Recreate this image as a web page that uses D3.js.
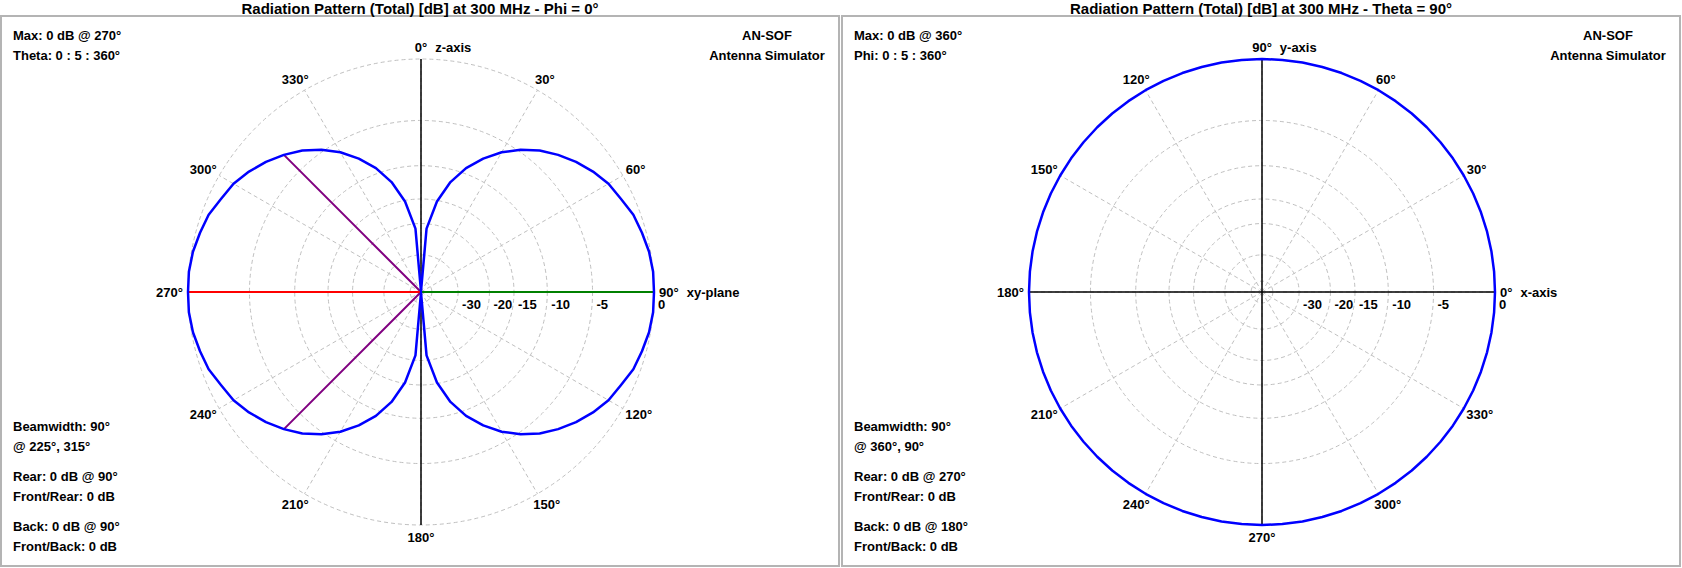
<!DOCTYPE html>
<html>
<head>
<meta charset="utf-8">
<script src="https://cdn.jsdelivr.net/npm/d3@7"></script>
<style>
  body { margin: 0; background: #fff; }
  svg text { font-family: "Liberation Sans", Arial, sans-serif; font-weight: bold; font-size: 13px; fill: #000; }
  svg text.title { font-size: 15px; }
</style>
</head>
<body>
<svg id="chart"></svg>
<script>
var width = 1682, height = 568;

// sweep 0 : 5 : 360 deg
var sweepDeg = d3.range(0, 361, 5);

// Phi = 0 cut, total field [dB] vs theta
var phi0Db = [
  -100, -21.2, -15.2, -11.7, -9.3, -7.5, -6.0, -4.8, -3.8, -3.0, -2.3, -1.7, -1.2, -0.9, -0.5, -0.3, -0.1, 0.0, 0.0,
  0.0, -0.1, -0.3, -0.5, -0.9, -1.2, -1.7, -2.3, -3.0, -3.8, -4.8, -6.0, -7.5, -9.3, -11.7, -15.2, -21.2, -100,
  -21.2, -15.2, -11.7, -9.3, -7.5, -6.0, -4.8, -3.8, -3.0, -2.3, -1.7, -1.2, -0.9, -0.5, -0.3, -0.1, 0.0, 0.0,
  0.0, -0.1, -0.3, -0.5, -0.9, -1.2, -1.7, -2.3, -3.0, -3.8, -4.8, -6.0, -7.5, -9.3, -11.7, -15.2, -21.2, -100
];

// Theta = 90 cut, total field [dB] vs phi
var theta90Db = [
  0, 0, 0, 0, 0, 0, 0, 0, 0, 0, 0, 0, 0, 0, 0, 0, 0, 0, 0,
  0, 0, 0, 0, 0, 0, 0, 0, 0, 0, 0, 0, 0, 0, 0, 0, 0, 0,
  0, 0, 0, 0, 0, 0, 0, 0, 0, 0, 0, 0, 0, 0, 0, 0, 0, 0,
  0, 0, 0, 0, 0, 0, 0, 0, 0, 0, 0, 0, 0, 0, 0, 0, 0, 0
];

var ringDb = [-50, -30, -20, -15, -10, -5, 0];
var ringLabelDb = [-30, -20, -15, -10, -5, 0];
var spokeDeg = d3.range(0, 360, 30);

var titles = [
  "Radiation Pattern (Total) [dB] at 300 MHz - Phi = 0°",
  "Radiation Pattern (Total) [dB] at 300 MHz - Theta = 90°"
];
var infoTop = [
  ["Max: 0 dB @ 270°", "Theta: 0 : 5 : 360°"],
  ["Max: 0 dB @ 360°", "Phi: 0 : 5 : 360°"]
];
var infoBottom = [
  [["Beamwidth: 90°", "@ 225°, 315°"], ["Rear: 0 dB @ 90°", "Front/Rear: 0 dB"], ["Back: 0 dB @ 90°", "Front/Back: 0 dB"]],
  [["Beamwidth: 90°", "@ 360°, 90°"], ["Rear: 0 dB @ 270°", "Front/Rear: 0 dB"], ["Back: 0 dB @ 180°", "Front/Back: 0 dB"]]
];
var brand = ["AN-SOF", "Antenna Simulator"];

var svg = d3.select("#chart").attr("width", width).attr("height", height);

var R = 233;
// power ratio -> radius (log-like dB scale)
var rPow = d3.scalePow().exponent(10 / 37.6).domain([0, 1]).range([0, R]);
function rScale(db) { return rPow(Math.pow(10, db / 10)); }
function rad(a) { return a * Math.PI / 180; }

var panels = [
  {
    x0: 0, cx: 421, values: phi0Db,
    screen: function (a) { return a; },           // theta clockwise from top
    axisLines: [[0, 180]],
    axisNames: [{ deg: 0, text: "z-axis" }, { deg: 90, text: "xy-plane" }],
    markers: [
      { deg: 225, color: "#800080" }, { deg: 315, color: "#800080" },
      { deg: 270, color: "#ff0000" }, { deg: 90, color: "#008000" }
    ]
  },
  {
    x0: 841, cx: 1262, values: theta90Db,
    screen: function (a) { return 90 - a; },      // phi counter-clockwise from right
    axisLines: [[0, 180], [90, 270]],
    axisNames: [{ deg: 90, text: "y-axis" }, { deg: 0, text: "x-axis" }],
    markers: []
  }
];
var cy = 292;

panels.forEach(function (p, i) {
  var g = svg.append("g");

  g.append("rect")
    .attr("x", p.x0 + 1).attr("y", 16)
    .attr("width", 838).attr("height", 550)
    .attr("fill", "none").attr("stroke", "#b4b4b4").attr("stroke-width", 2);

  g.append("text")
    .attr("class", "title")
    .attr("x", p.x0 + 420).attr("y", 13.5)
    .attr("text-anchor", "middle")
    .text(titles[i]);

  var plot = g.append("g").attr("transform", "translate(" + p.cx + "," + cy + ")");

  // grid rings
  plot.selectAll(".ring").data(ringDb).enter().append("circle")
    .attr("r", function (d) { return rScale(d); })
    .attr("fill", "none").attr("stroke", "#c0c0c0")
    .attr("stroke-dasharray", "4,3");

  // spokes
  plot.selectAll(".spoke").data(spokeDeg).enter().append("line")
    .attr("x1", 0).attr("y1", 0)
    .attr("x2", function (d) { return R * Math.sin(rad(d)); })
    .attr("y2", function (d) { return -R * Math.cos(rad(d)); })
    .attr("stroke", "#c0c0c0").attr("stroke-dasharray", "4,3");

  // max / rear / beamwidth markers
  plot.selectAll(".marker").data(p.markers).enter().append("line")
    .attr("x1", 0).attr("y1", 0)
    .attr("x2", function (d) {
      var r = rScale(p.values[sweepDeg.indexOf(d.deg)]);
      return r * Math.sin(rad(p.screen(d.deg)));
    })
    .attr("y2", function (d) {
      var r = rScale(p.values[sweepDeg.indexOf(d.deg)]);
      return -r * Math.cos(rad(p.screen(d.deg)));
    })
    .attr("stroke", function (d) { return d.color; })
    .attr("stroke-width", 2);

  // axis lines
  plot.selectAll(".axis").data(p.axisLines).enter().append("line")
    .attr("x1", function (d) { return R * Math.sin(rad(d[0])); })
    .attr("y1", function (d) { return -R * Math.cos(rad(d[0])); })
    .attr("x2", function (d) { return R * Math.sin(rad(d[1])); })
    .attr("y2", function (d) { return -R * Math.cos(rad(d[1])); })
    .attr("stroke", "#000").attr("stroke-width", 1.5);

  // pattern
  var line = d3.lineRadial()
    .angle(function (d, k) { return rad(p.screen(sweepDeg[k])); })
    .radius(function (d) { return rScale(d); });
  plot.append("path")
    .datum(p.values)
    .attr("d", line)
    .attr("fill", "none").attr("stroke", "#0000ff").attr("stroke-width", 2.5)
    .attr("stroke-linejoin", "round");

  // ring labels
  plot.selectAll(".rl").data(ringLabelDb).enter().append("text")
    .attr("x", function (d) { return rScale(d) + 4; })
    .attr("y", 17)
    .text(function (d) { return d; });

  // angle labels
  var labelPos = {};
  plot.selectAll(".al").data(spokeDeg).enter().append("text")
    .attr("text-anchor", "middle")
    .attr("dominant-baseline", "central")
    .text(function (d) { return d + "°"; })
    .each(function (d) {
      var s = rad(p.screen(d));
      var w = this.getComputedTextLength();
      var x = (R + 5) * Math.sin(s) + Math.sin(s) * w / 2;
      var y = -(R + 5) * Math.cos(s) - Math.cos(s) * 7;
      labelPos[d] = { x: x, y: y, w: w };
      d3.select(this).attr("x", x).attr("y", y);
    });

  plot.selectAll(".an").data(p.axisNames).enter().append("text")
    .attr("dominant-baseline", "central")
    .attr("x", function (d) { var l = labelPos[d.deg]; return l.x + l.w / 2 + 8; })
    .attr("y", function (d) { return labelPos[d.deg].y; })
    .text(function (d) { return d.text; });

  // info texts
  g.selectAll(".it").data(infoTop[i]).enter().append("text")
    .attr("x", p.x0 + 13)
    .attr("y", function (d, k) { return 40 + k * 20; })
    .text(function (d) { return d; });

  g.selectAll(".br").data(brand).enter().append("text")
    .attr("x", p.x0 + 767)
    .attr("y", function (d, k) { return 40 + k * 20; })
    .attr("text-anchor", "middle")
    .text(function (d) { return d; });

  infoBottom[i].forEach(function (grp, gi) {
    g.selectAll(".ib" + gi).data(grp).enter().append("text")
      .attr("x", p.x0 + 13)
      .attr("y", function (d, k) { return 431 + gi * 50 + k * 20; })
      .text(function (d) { return d; });
  });
});
</script>
</body>
</html>
